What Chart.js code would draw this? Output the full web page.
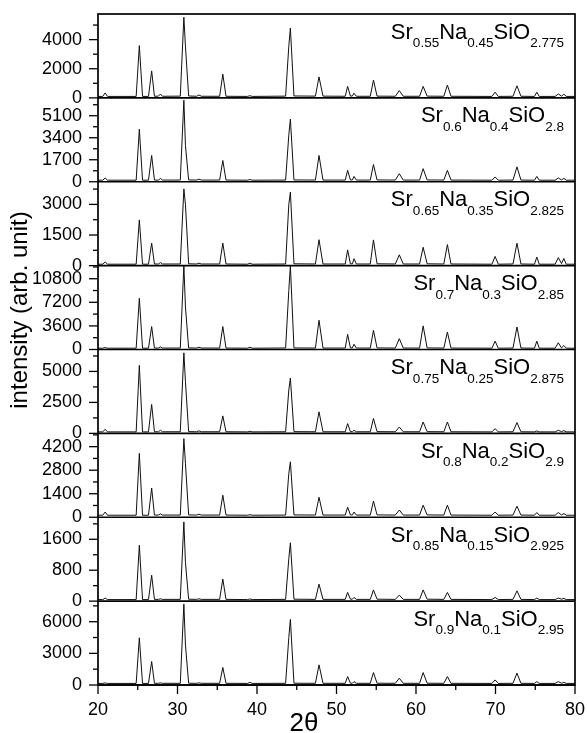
<!DOCTYPE html>
<html><head><meta charset="utf-8">
<script src="https://cdn.jsdelivr.net/npm/chart.js@4.4.1/dist/chart.umd.min.js"></script>
<style>html,body{margin:0;padding:0;background:#fff;}#wrap{width:587px;height:733px;position:relative;}</style>
</head><body><div id="wrap"><canvas id="c" width="587" height="733"></canvas></div>
<script>
const twoTheta = [20,20.6,20.9,21.2, 24.8,25.2,25.6, 26.35,26.75,27.1, 27.6,27.85,28.1, 30.35,30.8,31.0,31.4, 32.4,32.7,33.0, 35.3,35.7,36.1, 38.8,39.1,39.4, 43.6,44.0,44.2,44.65, 47.35,47.8,48.3, 51.1,51.4,51.75, 52.0,52.2,52.5, 54.25,54.65,55.1, 57.4,57.9,58.4, 60.45,60.9,61.4, 63.5,63.95,64.4, 69.55,69.95,70.35, 72.2,72.7,73.2, 74.9,75.2,75.5, 77.5,77.9,78.3, 78.6,78.9,80];

// intensities (arb. unit), one array per composition (top panel first)
const intSr055 = [100,100,340,100, 100,3590,100, 100,1850,110, 120,260,110, 120,5540,3550,130, 110,200,110, 110,1630,110, 100,150,100, 120,3550,4790,130, 120,1440,120, 110,790,120, 130,320,110, 110,1220,120, 110,500,110, 110,790,120, 110,880,110, 100,390,100, 110,830,110, 100,390,100, 100,270,120, 250,100,100];
const intSr060 = [120,120,290,120, 120,4060,120, 120,2030,130, 130,250,130, 130,6300,2800,140, 130,200,130, 130,1640,130, 120,170,120, 130,3600,4840,140, 130,2030,130, 130,880,140, 140,410,130, 130,1330,140, 130,620,130, 130,1010,140, 130,880,130, 120,370,120, 130,1150,130, 120,410,120, 120,290,140, 260,120,120];
const intSr065 = [70,70,180,70, 70,2240,70, 70,1100,80, 80,150,80, 80,3760,3000,90, 80,120,80, 80,1100,80, 70,120,70, 80,3000,3600,90, 80,1270,80, 80,770,90, 90,340,80, 80,1260,90, 80,530,80, 80,900,90, 80,1030,80, 70,450,70, 80,1100,80, 70,420,70, 70,390,100, 350,70,70];
const intSr070 = [200,200,300,200, 200,7820,200, 200,3500,220, 220,400,220, 220,12800,6500,240, 220,350,220, 220,3500,220, 200,350,200, 230,9000,12800,240, 220,4470,220, 220,2310,240, 240,800,220, 220,2930,240, 220,1650,220, 220,3600,240, 220,2670,220, 200,1280,200, 220,3440,220, 200,1280,200, 200,1030,250, 600,200,200];
const intSr075 = [120,120,330,120, 120,5490,120, 120,2340,130, 130,250,130, 130,6500,4190,140, 130,200,130, 130,1410,130, 120,170,120, 130,3500,4460,140, 130,1740,130, 130,790,140, 140,250,130, 130,1200,140, 130,510,130, 130,920,140, 130,920,130, 120,380,120, 130,870,130, 120,190,120, 120,250,140, 220,120,120];
const intSr080 = [120,120,310,120, 120,3800,120, 120,1740,130, 130,200,130, 130,4680,3210,140, 130,180,130, 130,1310,130, 120,150,120, 130,2600,3300,140, 130,1190,130, 130,600,140, 140,310,130, 130,960,140, 130,430,130, 130,720,140, 130,720,130, 120,310,120, 130,660,130, 120,280,120, 120,280,140, 220,120,120];
const intSr085 = [40,40,80,40, 40,1445,40, 40,670,45, 45,60,45, 45,2050,1000,50, 45,60,45, 45,570,45, 40,55,40, 45,1100,1510,50, 45,440,45, 45,225,50, 50,95,45, 45,290,50, 45,155,45, 45,290,50, 45,225,45, 40,95,40, 45,265,45, 40,80,40, 40,80,50, 70,40,40];
const intSr090 = [150,150,200,150, 150,4470,150, 150,2230,160, 160,200,160, 160,7660,3800,170, 160,200,160, 160,1660,160, 150,250,150, 160,4500,6220,170, 160,1910,160, 160,800,170, 170,320,160, 160,1180,170, 160,640,160, 160,1180,170, 160,800,160, 150,480,150, 160,1120,160, 150,320,150, 150,320,170, 250,150,150];

// formula subscripts per panel
const srSub = ["0.55","0.6","0.65","0.7","0.75","0.8","0.85","0.9"];
const naSub = ["0.45","0.4","0.35","0.3","0.25","0.2","0.15","0.1"];
const oSub  = ["2.775","2.8","2.825","2.85","2.875","2.9","2.925","2.95"];

// per-panel y axis top and labelled (major) ticks; minor ticks sit halfway
const yMax = [5760, 6480, 4110, 12800, 6770, 4990, 2170, 7950];
const yTicks055 = [0, 2000, 4000];
const yTicks060 = [0, 1700, 3400, 5100];
const yTicks065 = [0, 1500, 3000];
const yTicks070 = [0, 3600, 7200, 10800];
const yTicks075 = [0, 2500, 5000];
const yTicks080 = [0, 1400, 2800, 4200];
const yTicks085 = [0, 800, 1600];
const yTicks090 = [0, 3000, 6000];
// x axis ticks
const xMajorTicks = [20, 30, 40, 50, 60, 70, 80];
const xMinorTicks = [25, 35, 45, 55, 65, 75];

const series = [intSr055, intSr060, intSr065, intSr070, intSr075, intSr080, intSr085, intSr090];
const yTicks = [yTicks055, yTicks060, yTicks065, yTicks070, yTicks075, yTicks080, yTicks085, yTicks090];
const FONT = "'Liberation Sans', Arial, Helvetica, sans-serif";
const ids = series.map((_, i) => 'y' + i);

function allTicks(major, max) {
  const step = major[1] - major[0];
  const out = [];
  major.forEach(v => { out.push({value: v, major: true}); if (v + step / 2 <= max) out.push({value: v + step / 2, major: false}); });
  return out.sort((a, b) => a.value - b.value);
}

const datasets = series.map((vals, i) => ({
  label: 'Sr' + srSub[i] + 'Na' + naSub[i] + 'SiO' + oSub[i],
  data: twoTheta.map((t, k) => ({x: t, y: vals[k]})),
  yAxisID: ids[i],
  borderColor: '#111',
  borderWidth: 1,
  pointRadius: 0,
  tension: 0,
  fill: false
}));

const scales = {
  x: {
    type: 'linear', min: 20, max: 80, position: 'bottom',
    grid: {display: false, drawTicks: false},
    border: {display: false},
    ticks: {autoSkip: false, maxRotation: 0, padding: 14, color: '#000', font: {family: FONT, size: 18}},
    afterBuildTicks: s => {
      s.ticks = xMajorTicks.map(v => ({value: v, major: true}))
        .concat(xMinorTicks.map(v => ({value: v, major: false})))
        .sort((a, b) => a.value - b.value);
    },
    ticksCallbackNote: null,
    afterFit: s => { s.height = 48; s.paddingLeft = 0; s.paddingRight = 0; }
  }
};
scales.x.ticks.callback = function (v) { return xMajorTicks.includes(v) ? String(v) : ''; };
delete scales.x.ticksCallbackNote;

// stacked left axes: defined last-panel-first so the first panel lands on top
for (let i = ids.length - 1; i >= 0; i--) {
  scales[ids[i]] = {
    type: 'linear', position: 'left', stack: 'panels', stackWeight: 1,
    min: 0, max: yMax[i],
    grid: {display: false, drawTicks: false},
    border: {display: false},
    ticks: {autoSkip: false, padding: 16, color: '#000', font: {family: FONT, size: 18},
      callback: v => (yTicks[i].includes(v) ? String(v) : '')},
    afterBuildTicks: s => { s.ticks = allTicks(yTicks[i], yMax[i]); },
    afterFit: s => { s.width = 98; s.paddingTop = 0; s.paddingBottom = 0; }
  };
}

function drawFormula(ctx, xRight, yBase, parts) {
  const mainF = '22px ' + FONT, subF = '13.5px ' + FONT;
  let w = 0;
  parts.forEach(p => { ctx.font = p[1] ? subF : mainF; w += ctx.measureText(p[0]).width; });
  let x = xRight - w;
  ctx.textAlign = 'left'; ctx.textBaseline = 'alphabetic';
  parts.forEach(p => {
    ctx.font = p[1] ? subF : mainF;
    ctx.fillText(p[0], x, p[1] ? yBase + 8.5 : yBase);
    x += ctx.measureText(p[0]).width;
  });
}

const decor = {
  id: 'decor',
  afterDatasetsDraw(chart) {
    const ctx = chart.ctx, a = chart.chartArea;
    ctx.save();
    ctx.strokeStyle = '#000'; ctx.fillStyle = '#000';
    ids.forEach((id, i) => {
      const sc = chart.scales[id];
      const y0 = sc.getPixelForValue(0), yTop = sc.getPixelForValue(sc.max);
      ctx.lineWidth = 1.7;
      ctx.beginPath(); ctx.moveTo(a.left, y0); ctx.lineTo(a.right, y0); ctx.stroke();
      ctx.lineWidth = 1.3;
      sc.ticks.forEach(t => {
        const y = sc.getPixelForValue(t.value);
        const len = t.major ? 9 : 5;
        ctx.beginPath(); ctx.moveTo(a.left - len, y); ctx.lineTo(a.left, y); ctx.stroke();
      });
      drawFormula(ctx, a.right - 11, yTop + 24.5,
        [['Sr', false], [srSub[i], true], ['Na', false], [naSub[i], true], ['SiO', false], [oSub[i], true]]);
    });
    const xs = chart.scales.x;
    ctx.lineWidth = 1.3;
    xs.ticks.forEach(t => {
      const x = xs.getPixelForValue(t.value);
      const len = t.major ? 9 : 5;
      ctx.beginPath(); ctx.moveTo(x, a.bottom); ctx.lineTo(x, a.bottom + len); ctx.stroke();
    });
    ctx.lineWidth = 1.7;
    ctx.strokeRect(a.left, a.top, a.right - a.left, a.bottom - a.top);
    ctx.font = '26px ' + FONT;
    ctx.textAlign = 'center'; ctx.textBaseline = 'alphabetic';
    ctx.fillText('2θ', 304, 731);
    ctx.save();
    ctx.translate(27, 310);
    ctx.rotate(-Math.PI / 2);
    ctx.font = '24px ' + FONT;
    ctx.fillText('intensity (arb. unit)', 0, 0);
    ctx.restore();
    ctx.restore();
  }
};

new Chart(document.getElementById('c'), {
  type: 'line',
  data: {datasets},
  options: {
    responsive: false, animation: false, devicePixelRatio: 1,
    layout: {padding: {top: 14, right: 12, left: 0, bottom: 0}},
    plugins: {legend: {display: false}, tooltip: {enabled: false}},
    scales
  },
  plugins: [decor]
});
</script></body></html>
